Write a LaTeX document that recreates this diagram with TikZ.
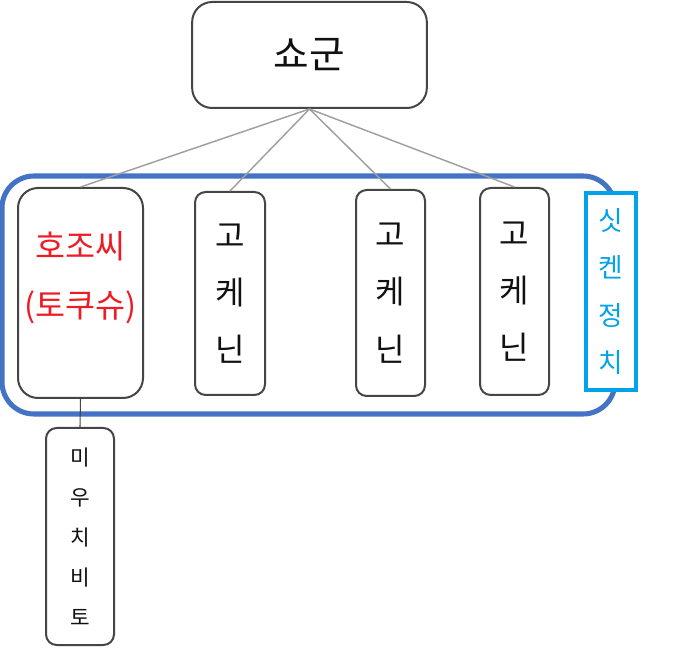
\documentclass[tikz,border=0pt]{standalone}
\usepackage{fontspec}
\newfontfamily\hangul{Noto Sans CJK KR}
\definecolor{tinta}{HTML}{111111}
\definecolor{borde}{HTML}{454545}
\definecolor{enlace}{HTML}{A0A0A0}
\definecolor{azulgrupo}{HTML}{4472C4}
\definecolor{rojo}{HTML}{ED1C24}
\definecolor{celeste}{HTML}{00A2E8}
\tikzset{
  % Cajas de la jerarquía (shogun, gokenin, ...)
  caja/.style      = {draw=borde, line width=1.5pt, fill=white, inner sep=0pt,
                      align=center, rounded corners=8pt, text=tinta},
  % Líneas de dependencia entre cajas
  conector/.style  = {line width=1.1pt, color=enlace},
  % Marco azul que agrupa a los vasallos
  grupo/.style     = {line width=3.8pt, color=azulgrupo, rounded corners=24pt},
  % Recuadro del rótulo lateral (tapa el marco azul)
  rotulo/.style    = {draw=celeste, line width=3pt, fill=white, inner sep=0pt,
                      align=center, text=celeste},
  every node/.style = {font=\hangul},
}

\begin{document}
\begin{tikzpicture}[x=0.75pt, y=-0.75pt]
  \useasboundingbox (0,0) rectangle (682,648);

  % ============================================================
  % Marco del grupo (debajo de todo)
  % ============================================================
  \draw[grupo] (2,176) rectangle (615,414);

  % ============================================================
  % Cajas
  % ============================================================
  \node[caja, rounded corners=15pt, minimum width=176pt, minimum height=79.5pt,
        font=\hangul\fontsize{29}{34}\selectfont] (shogun) at (309.5,55) {쇼군};

  \node[caja, rounded corners=15pt, minimum width=93.75pt, minimum height=157.5pt]
        (hojo) at (80.5,293) {};
  \node[text=rojo, align=center, font=\hangul\fontsize{24.5}{44}\selectfont]
        (hojotxt) at (80.5,278) {호조씨\\(토쿠슈)};

  \node[caja, minimum width=52.5pt, minimum height=152.25pt,
        font=\hangul\fontsize{24}{43}\selectfont] (gok1) at (230,293.5) {고\\케\\닌};
  \node[caja, minimum width=51.75pt, minimum height=154.5pt,
        font=\hangul\fontsize{24}{43}\selectfont] (gok2) at (390.5,293) {고\\케\\닌};
  \node[caja, minimum width=51.75pt, minimum height=155.25pt,
        font=\hangul\fontsize{24}{43}\selectfont] (gok3) at (514.5,291.5) {고\\케\\닌};

  \node[rotulo, minimum width=37.5pt, minimum height=147.75pt,
        font=\hangul\fontsize{20}{35.5}\selectfont] (shikken) at (611,291.5) {싯\\켄\\정\\치};

  \node[caja, minimum width=51pt, minimum height=162.75pt,
        font=\hangul\fontsize{16}{30}\selectfont] (miuchi) at (80,536.5) {미\\우\\치\\비\\토};

  % ============================================================
  % Conectores
  % ============================================================
  \foreach \hijo in {hojo, gok1, gok2, gok3}
    \draw[conector] (shogun.south) -- (\hijo.north);
  \draw[conector, color=borde, line width=0.8pt] (hojo.south) -- (miuchi.north);

\end{tikzpicture}
\end{document}
